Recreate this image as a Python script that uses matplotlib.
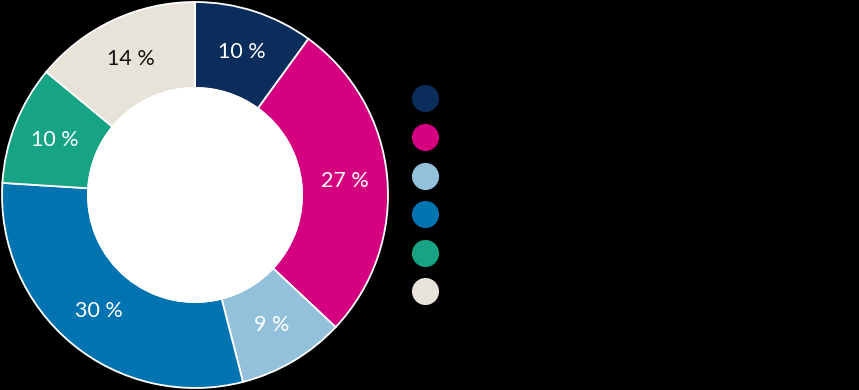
import numpy as np
import matplotlib.pyplot as plt

# shares, clockwise from 12 o'clock
shares = [10, 27, 9, 30, 10, 14]
pct_labels = ["10 %", "27 %", "9 %", "30 %", "10 %", "14 %"]
colors = ["#0b2d5b", "#d4007f", "#93c1dc", "#0074b1", "#16a484", "#e7e3d9"]
label_colors = ["white", "white", "white", "white", "white", "#111111"]

plt.rcParams["font.family"] = ["Lato", "DejaVu Sans"]

W, H = 859, 390
fig = plt.figure(figsize=(W / 100, H / 100), dpi=100, facecolor="black")

# donut
ax = fig.add_axes([0, 0, 390 / W, 1])
wedges, _ = ax.pie(
    shares,
    colors=colors,
    startangle=90,
    counterclock=False,
    radius=1.0,
    wedgeprops=dict(width=0.445, edgecolor="white", linewidth=1.3),
)
ax.add_patch(plt.Circle((0, 0), 0.555, color="white", zorder=3))

r_lab = 0.78
total = sum(shares)
start = 90.0
for v, lab, c in zip(shares, pct_labels, label_colors):
    mid = start - v / total * 360 / 2
    start -= v / total * 360
    x = r_lab * np.cos(np.radians(mid))
    y = r_lab * np.sin(np.radians(mid))
    ax.text(x, y, lab, ha="center", va="center", color=c, fontsize=15.5, zorder=4)

lim = 195 / 193
ax.set_xlim(-lim, lim)
ax.set_ylim(-lim, lim)
ax.set_aspect("equal")
ax.axis("off")

# legend markers (labels are black on black in the reference)
lax = fig.add_axes([0, 0, 1, 1])
lax.set_xlim(0, W)
lax.set_ylim(H, 0)
lax.axis("off")
leg_y = [98, 137, 175.5, 214, 252.5, 291]
for yy, c in zip(leg_y, colors):
    lax.plot(425, yy, "o", color=c, markersize=19.5, markeredgewidth=0)

fig.savefig("out.png", dpi=100, facecolor="black")
